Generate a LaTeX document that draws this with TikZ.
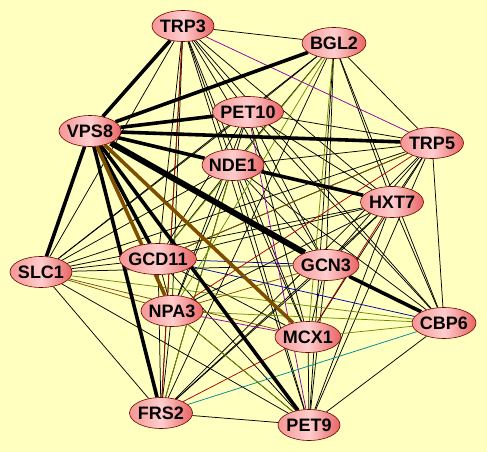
\documentclass[tikz,border=0pt]{standalone}
\usepackage{fontspec}
\setsansfont{Liberation Sans}
\usepackage{xcolor}
\usetikzlibrary{shapes.geometric}

\definecolor{bgyel}{RGB}{255,255,192}
\definecolor{pinkL}{RGB}{245,150,150}
\definecolor{pinkM}{RGB}{255,205,205}
\definecolor{pinkR}{RGB}{232,100,100}
\definecolor{oliveE}{RGB}{110,140,0}
\definecolor{brownE}{RGB}{125,78,0}
\definecolor{purpleE}{RGB}{150,0,160}
\definecolor{blueE}{RGB}{0,0,160}
\definecolor{tealE}{RGB}{0,140,150}
\definecolor{redE}{RGB}{170,0,0}

\pgfdeclarelayer{bg}
\pgfdeclarelayer{edges}
\pgfsetlayers{bg,edges,main}

\begin{document}
\begin{tikzpicture}[x=1pt, y=-1pt, font=\sffamily\bfseries\fontsize{18}{18}\selectfont,
  gene/.style={ellipse, draw=red!45!black, line width=0.6pt,
               left color=pinkL, right color=pinkR, middle color=pinkM,
               inner xsep=-12pt, inner ysep=0pt, minimum width=62pt, minimum height=31pt},
  ln/.style={draw=black, line width=0.75pt},
  tk/.style={draw=black, line width=3.6pt},
  tkk/.style={draw=black, line width=6pt},
  bk/.style={draw=brownE, line width=3.6pt},
  olv/.style={ln, draw=oliveE},
  prp/.style={ln, draw=purpleE},
  blu/.style={ln, draw=blueE},
  tea/.style={ln, draw=tealE},
  rdd/.style={ln, draw=redE},
  brn/.style={ln, draw=brownE}]
\begin{pgfonlayer}{bg}
\fill[bgyel] (0,0) rectangle (487,452);
\end{pgfonlayer}
\useasboundingbox (0,0) rectangle (487,452);
% genes (pixel positions)
\node[gene] (trp3)  at (183,26)  {TRP3};
\node[gene, minimum width=64pt] (bgl2) at (334,43) {BGL2};
\node[gene, minimum width=71pt] (pet10) at (248,112) {PET10};
\node[gene] (vps8)  at (90,131)  {VPS8};
\node[gene, minimum width=63pt] (trp5) at (432,143) {TRP5};
\node[gene] (nde1)  at (233,165) {NDE1};
\node[gene, minimum width=63pt] (hxt7) at (392,202) {HXT7};
\node[gene] (slc1)  at (41,272)  {SLC1};
\node[gene, minimum width=77pt] (gcd11) at (158,259) {GCD11};
\node[gene, minimum width=66pt] (gcn3) at (326,265) {GCN3};
\node[gene] (npa3)  at (172,311) {NPA3};
\node[gene, minimum width=66pt] (mcx1) at (308,337) {MCX1};
\node[gene, minimum width=64pt] (cbp6) at (444,323) {CBP6};
\node[gene, minimum width=63pt] (frs2) at (161,413) {FRS2};
\node[gene] (pet9)  at (309,425) {PET9};
\begin{pgfonlayer}{edges}
% thin black interactions
\draw[ln] (trp3)--(bgl2); \draw[ln] (trp3)--(pet10); \draw[ln] (trp3)--(nde1); \draw[ln] (trp3)--(gcd11);
\draw[ln] (trp3)--(npa3); \draw[ln] (trp3)--(frs2); \draw[ln] (trp3)--(gcn3); \draw[ln] (trp3)--(mcx1);
\draw[ln] (trp3)--(hxt7); \draw[ln] (trp3)--(pet9); \draw[ln] (trp3)--(cbp6); \draw[ln] (trp3)--(slc1);
\draw[ln] (bgl2)--(pet10); \draw[ln] (bgl2)--(nde1); \draw[ln] (bgl2)--(trp5); \draw[ln] (bgl2)--(hxt7);
\draw[ln] (bgl2)--(cbp6); \draw[ln] (bgl2)--(gcn3); \draw[ln] (bgl2)--(pet9); \draw[ln] (bgl2)--(frs2);
\draw[ln] (bgl2)--(slc1);
\draw[ln] (pet10)--(trp5); \draw[ln] (pet10)--(hxt7); \draw[ln] (pet10)--(gcn3); \draw[ln] (pet10)--(mcx1);
\draw[ln] (pet10)--(npa3); \draw[ln] (pet10)--(gcd11); \draw[ln] (pet10)--(cbp6); \draw[ln] (pet10)--(frs2);
\draw[ln] (trp5)--(nde1); \draw[ln] (trp5)--(hxt7); \draw[ln] (trp5)--(cbp6); \draw[ln] (trp5)--(gcn3);
\draw[ln] (trp5)--(gcd11); \draw[ln] (trp5)--(slc1); \draw[ln] (trp5)--(pet9); \draw[ln] (trp5)--(mcx1);
\draw[ln] (trp5)--(frs2);
\draw[ln] (nde1)--(gcd11); \draw[ln] (nde1)--(npa3); \draw[ln] (nde1)--(gcn3); \draw[ln] (nde1)--(cbp6);
\draw[ln] (nde1)--(pet9); \draw[ln] (nde1)--(slc1); \draw[ln] (nde1)--(mcx1);
\draw[ln] (hxt7)--(gcn3); \draw[ln] (hxt7)--(cbp6); \draw[ln] (hxt7)--(pet9); \draw[ln] (hxt7)--(gcd11);
\draw[ln] (hxt7)--(slc1); \draw[ln] (hxt7)--(frs2); \draw[ln] (hxt7)--(npa3);
\draw[ln] (slc1)--(gcd11); \draw[ln] (slc1)--(gcn3); \draw[ln] (slc1)--(frs2); \draw[ln] (slc1)--(pet9);
\draw[ln] (slc1)--(pet10);
\draw[ln] (gcd11)--(npa3); \draw[ln] (gcd11)--(mcx1); \draw[ln] (gcd11)--(frs2); \draw[ln] (gcd11)--(pet9);
\draw[ln] (npa3)--(frs2); \draw[ln] (npa3)--(pet9);
\draw[ln] (gcn3)--(mcx1); \draw[ln] (gcn3)--(pet9); \draw[ln] (gcn3)--(frs2);
\draw[ln] (mcx1)--(pet9); \draw[ln] (cbp6)--(pet9); \draw[ln] (frs2)--(pet9);
% coloured interactions
\draw[prp] (trp3)--(trp5); \draw[prp] (pet10)--(pet9); \draw[prp] (npa3)--(mcx1);
\draw[blu] (gcd11)--(gcn3); \draw[blu] (gcd11)--(cbp6);
\draw[tea] (frs2)--(cbp6);
\draw[olv] (bgl2)--(mcx1); \draw[olv] (bgl2)--(npa3); \draw[olv] (bgl2)--(gcd11); \draw[olv] (npa3)--(cbp6);
\draw[olv] (mcx1)--(cbp6); \draw[olv] (npa3)--(pet9); \draw[olv] (slc1)--(cbp6); \draw[olv] (nde1)--(frs2);
\draw[rdd] (trp3)--(frs2); \draw[rdd] (frs2)--(mcx1); \draw[rdd] (mcx1)--(hxt7); \draw[rdd] (trp5)--(npa3);
\draw[brn] (slc1)--(npa3); \draw[brn] (slc1)--(mcx1); \draw[brn] (npa3)--(gcn3); \draw[brn] (gcd11)--(trp5);
% heavy interactions
\draw[tk] (vps8)--(trp3); \draw[tk] (vps8)--(bgl2); \draw[tk] (vps8)--(pet10); \draw[tk] (vps8)--(trp5);
\draw[tk] (vps8)--(nde1); \draw[tk] (vps8)--(slc1); \draw[tk] (vps8)--(frs2); \draw[tk] (vps8)--(gcd11);
\draw[tk] (vps8)--(pet9); \draw[tk] (nde1)--(hxt7); \draw[tk] (gcn3)--(cbp6);
\draw[tkk] (vps8)--(gcn3);
\draw[bk] (vps8)--(npa3); \draw[bk] (vps8)--(mcx1);
\end{pgfonlayer}
\end{tikzpicture}
\end{document}
